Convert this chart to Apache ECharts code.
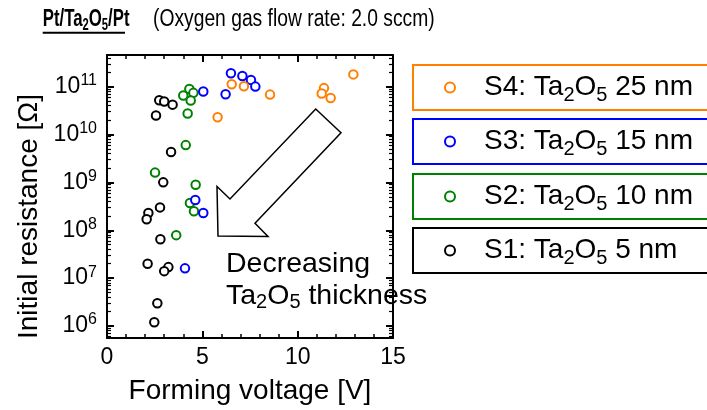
<!DOCTYPE html>
<html>
<head>
<meta charset="utf-8">
<script src="https://cdn.jsdelivr.net/npm/echarts@6/dist/echarts.min.js"></script>
<style>
html, body { margin: 0; padding: 0; background: #fff; }
#chart { width: 707px; height: 410px; }
</style>
</head>
<body>
<div id="chart"></div>
<script>
// Forming voltage [V] and initial resistance [Ω] of each device
const s1Voltage    = [2.74, 3.00, 3.44, 2.57, 3.36, 2.95, 2.78, 2.17, 2.08, 2.80, 2.13, 3.22, 3.00, 2.64, 2.48];
const s1Resistance = [5.2e10, 4.9e10, 4.2e10, 2.5e10, 4.3e9, 1.0e9, 3.0e8, 2.3e8, 1.7e8, 6.5e7, 2.0e7, 1.7e7, 1.4e7, 3.0e6, 1.2e6];

const s2Voltage    = [4.32, 4.00, 4.53, 4.39, 4.23, 4.13, 2.52, 4.65, 4.35, 4.56, 3.63];
const s2Resistance = [8.9e10, 6.5e10, 7.4e10, 5.1e10, 2.75e10, 6.0e9, 1.6e9, 8.9e8, 3.7e8, 2.5e8, 7.9e7];

const s3Voltage    = [5.05, 6.22, 6.50, 7.10, 7.55, 7.78, 4.63, 5.05, 4.09];
const s3Resistance = [7.9e10, 6.9e10, 1.9e11, 1.66e11, 1.38e11, 1.0e11, 4.3e8, 2.3e8, 1.6e7];

const s4Voltage    = [6.54, 7.18, 8.55, 5.80, 12.92, 11.38, 11.26, 11.73];
const s4Resistance = [1.12e11, 1.02e11, 6.8e10, 2.3e10, 1.8e11, 9.3e10, 7.2e10, 5.8e10];

const sampleNames = ['S1', 'S2', 'S3', 'S4'];
const sampleThickness = ['5 nm', '10 nm', '15 nm', '25 nm'];
const sampleColors = ['#000000', '#008000', '#0000ff', '#ff8000'];

const xTickValues = [0, 5, 10, 15];
const yDecadeExponents = [6, 7, 8, 9, 10, 11];

// ---- chart construction ----
const FONT = "'Liberation Sans', Arial, sans-serif";
const yMin = Math.pow(10, 5.75);
const yMax = Math.pow(10, 11.66);

const majorY = yDecadeExponents.map(e => Math.pow(10, e));
const minorY = [];
for (let e = 5; e <= 11; e++) {
  for (let k = 2; k <= 9; k++) {
    const v = k * Math.pow(10, e);
    if (v > yMin && v < yMax) minorY.push(v);
  }
}

const samples = [
  { v: s1Voltage, r: s1Resistance },
  { v: s2Voltage, r: s2Resistance },
  { v: s3Voltage, r: s3Resistance },
  { v: s4Voltage, r: s4Resistance }
];

const series = samples.map((s, i) => ({
  type: 'scatter',
  name: sampleNames[i],
  xAxisIndex: 0,
  yAxisIndex: 0,
  symbol: 'circle',
  symbolSize: 8.5,
  itemStyle: { color: '#ffffff', borderColor: sampleColors[i], borderWidth: 2, opacity: 1 },
  data: s.v.map((x, j) => [x, s.r[j]]),
  z: 2 + i
}));

// one boxed legend per sample, stacked with the thickest film on top
const legendTops = [228, 174, 119, 65];
const legends = sampleNames.map((n, i) => ({
  data: [n],
  left: 413,
  top: legendTops[i],
  orient: 'vertical',
  selectedMode: false,
  padding: [5, 80, 5, 31],
  borderColor: sampleColors[i],
  borderWidth: 2,
  borderRadius: 0,
  itemWidth: 10,
  itemHeight: 10,
  icon: 'circle',
  itemStyle: { color: '#ffffff', borderColor: sampleColors[i], borderWidth: 2 },
  formatter: () => n + ': Ta{sub|2}O{sub|5} ' + sampleThickness[i],
  textStyle: {
    fontFamily: FONT, fontSize: 28, color: '#000', lineHeight: 35, padding: [0, 0, 0, 24],
    rich: { sub: { fontFamily: FONT, fontSize: 20, color: '#000', lineHeight: 20, verticalAlign: 'bottom' } }
  }
}));

const xAxisCommon = {
  type: 'value', min: 0, max: 15, interval: 5,
  axisLine: { show: true, onZero: false, lineStyle: { color: '#000', width: 2 } },
  axisTick: { show: true, inside: true, length: 7, lineStyle: { color: '#000', width: 2 } },
  minorTick: { show: true, splitNumber: 5, length: 4, lineStyle: { color: '#000', width: 1.5 } },
  splitLine: { show: false }
};

function yAxisDef(position, major) {
  return {
    type: 'log', logBase: 10, min: yMin, max: yMax, position: position,
    axisLine: { show: major, onZero: false, lineStyle: { color: '#000', width: 2 } },
    axisTick: {
      show: true, inside: true, length: major ? 7 : 4,
      customValues: major ? majorY : minorY,
      lineStyle: { color: '#000', width: major ? 2 : 1.2 }
    },
    axisLabel: { show: false },
    splitLine: { show: false },
    minorTick: { show: false }
  };
}

const yLeft = yAxisDef('left', true);
yLeft.axisLabel = {
  show: true, margin: 10, customValues: majorY, lineHeight: 28,
  formatter: v => '{b|10}{s|' + Math.round(Math.log10(v)) + '}',
  rich: {
    b: { fontFamily: FONT, fontSize: 23, color: '#000' },
    s: { fontFamily: FONT, fontSize: 16, color: '#000', lineHeight: 16, verticalAlign: 'top' }
  }
};
yLeft.name = 'Initial resistance [Ω]';
yLeft.nameLocation = 'middle';
yLeft.nameRotate = 90;
yLeft.nameGap = 64;
yLeft.nameTextStyle = { fontFamily: FONT, fontSize: 28, color: '#000', padding: [0, 40, 0, 0] };

const option = {
  animation: false,
  backgroundColor: '#ffffff',
  grid: { left: 107, right: 314, top: 55, bottom: 72, containLabel: false },
  xAxis: [
    Object.assign({}, xAxisCommon, {
      position: 'bottom',
      axisLabel: { show: true, margin: 8, fontFamily: FONT, fontSize: 23, color: '#000', customValues: xTickValues },
      name: 'Forming voltage [V]', nameLocation: 'middle', nameGap: 39,
      nameTextStyle: { fontFamily: FONT, fontSize: 28, color: '#000' }
    }),
    Object.assign({}, xAxisCommon, { position: 'top', axisLabel: { show: false } })
  ],
  yAxis: [yLeft, yAxisDef('left', false), yAxisDef('right', true), yAxisDef('right', false)],
  legend: legends,
  series: series,
  graphic: [
    {
      // hollow arrow: thinner films toward lower voltage / resistance
      type: 'polygon', z: 10,
      shape: { points: [[315.7, 109], [341, 132.7], [255, 223.3], [268, 236.5], [218, 236], [217, 186.5], [230, 199]] },
      style: { fill: '#ffffff', stroke: '#000', lineWidth: 1.5 }
    },
    {
      type: 'text', z: 10, x: 226, y: 264,
      style: { text: 'Decreasing', fontFamily: FONT, fontSize: 28.5, fill: '#000', verticalAlign: 'middle' }
    },
    {
      type: 'text', z: 10, x: 226, y: 296,
      style: {
        text: 'Ta{s|2}O{s|5} thickness', fontFamily: FONT, fontSize: 28.5, fill: '#000',
        lineHeight: 33, verticalAlign: 'middle',
        rich: { s: { fontFamily: FONT, fontSize: 20, fill: '#000', lineHeight: 20, verticalAlign: 'bottom' } }
      }
    },
    {
      type: 'text', z: 10, x: 42.7, y: 19.5, scaleX: 0.7,
      style: {
        text: 'Pt/Ta{s|2}O{s|5}/Pt', fontFamily: FONT, fontSize: 24, fontWeight: 'bold', fill: '#000',
        lineHeight: 28, verticalAlign: 'middle',
        rich: { s: { fontFamily: FONT, fontSize: 16, fontWeight: 'bold', fill: '#000', lineHeight: 11, verticalAlign: 'bottom' } }
      }
    },
    {
      type: 'line', z: 10,
      shape: { x1: 42.7, y1: 32.7, x2: 125, y2: 32.7 },
      style: { stroke: '#000', lineWidth: 2 }
    },
    {
      type: 'text', z: 10, x: 153, y: 19.5, scaleX: 0.82,
      style: { text: '(Oxygen gas flow rate: 2.0 sccm)', fontFamily: FONT, fontSize: 23.5, fill: '#000', verticalAlign: 'middle' }
    }
  ]
};

const chart = echarts.init(document.getElementById('chart'), null, { renderer: 'canvas' });
chart.setOption(option);
</script>
</body>
</html>
